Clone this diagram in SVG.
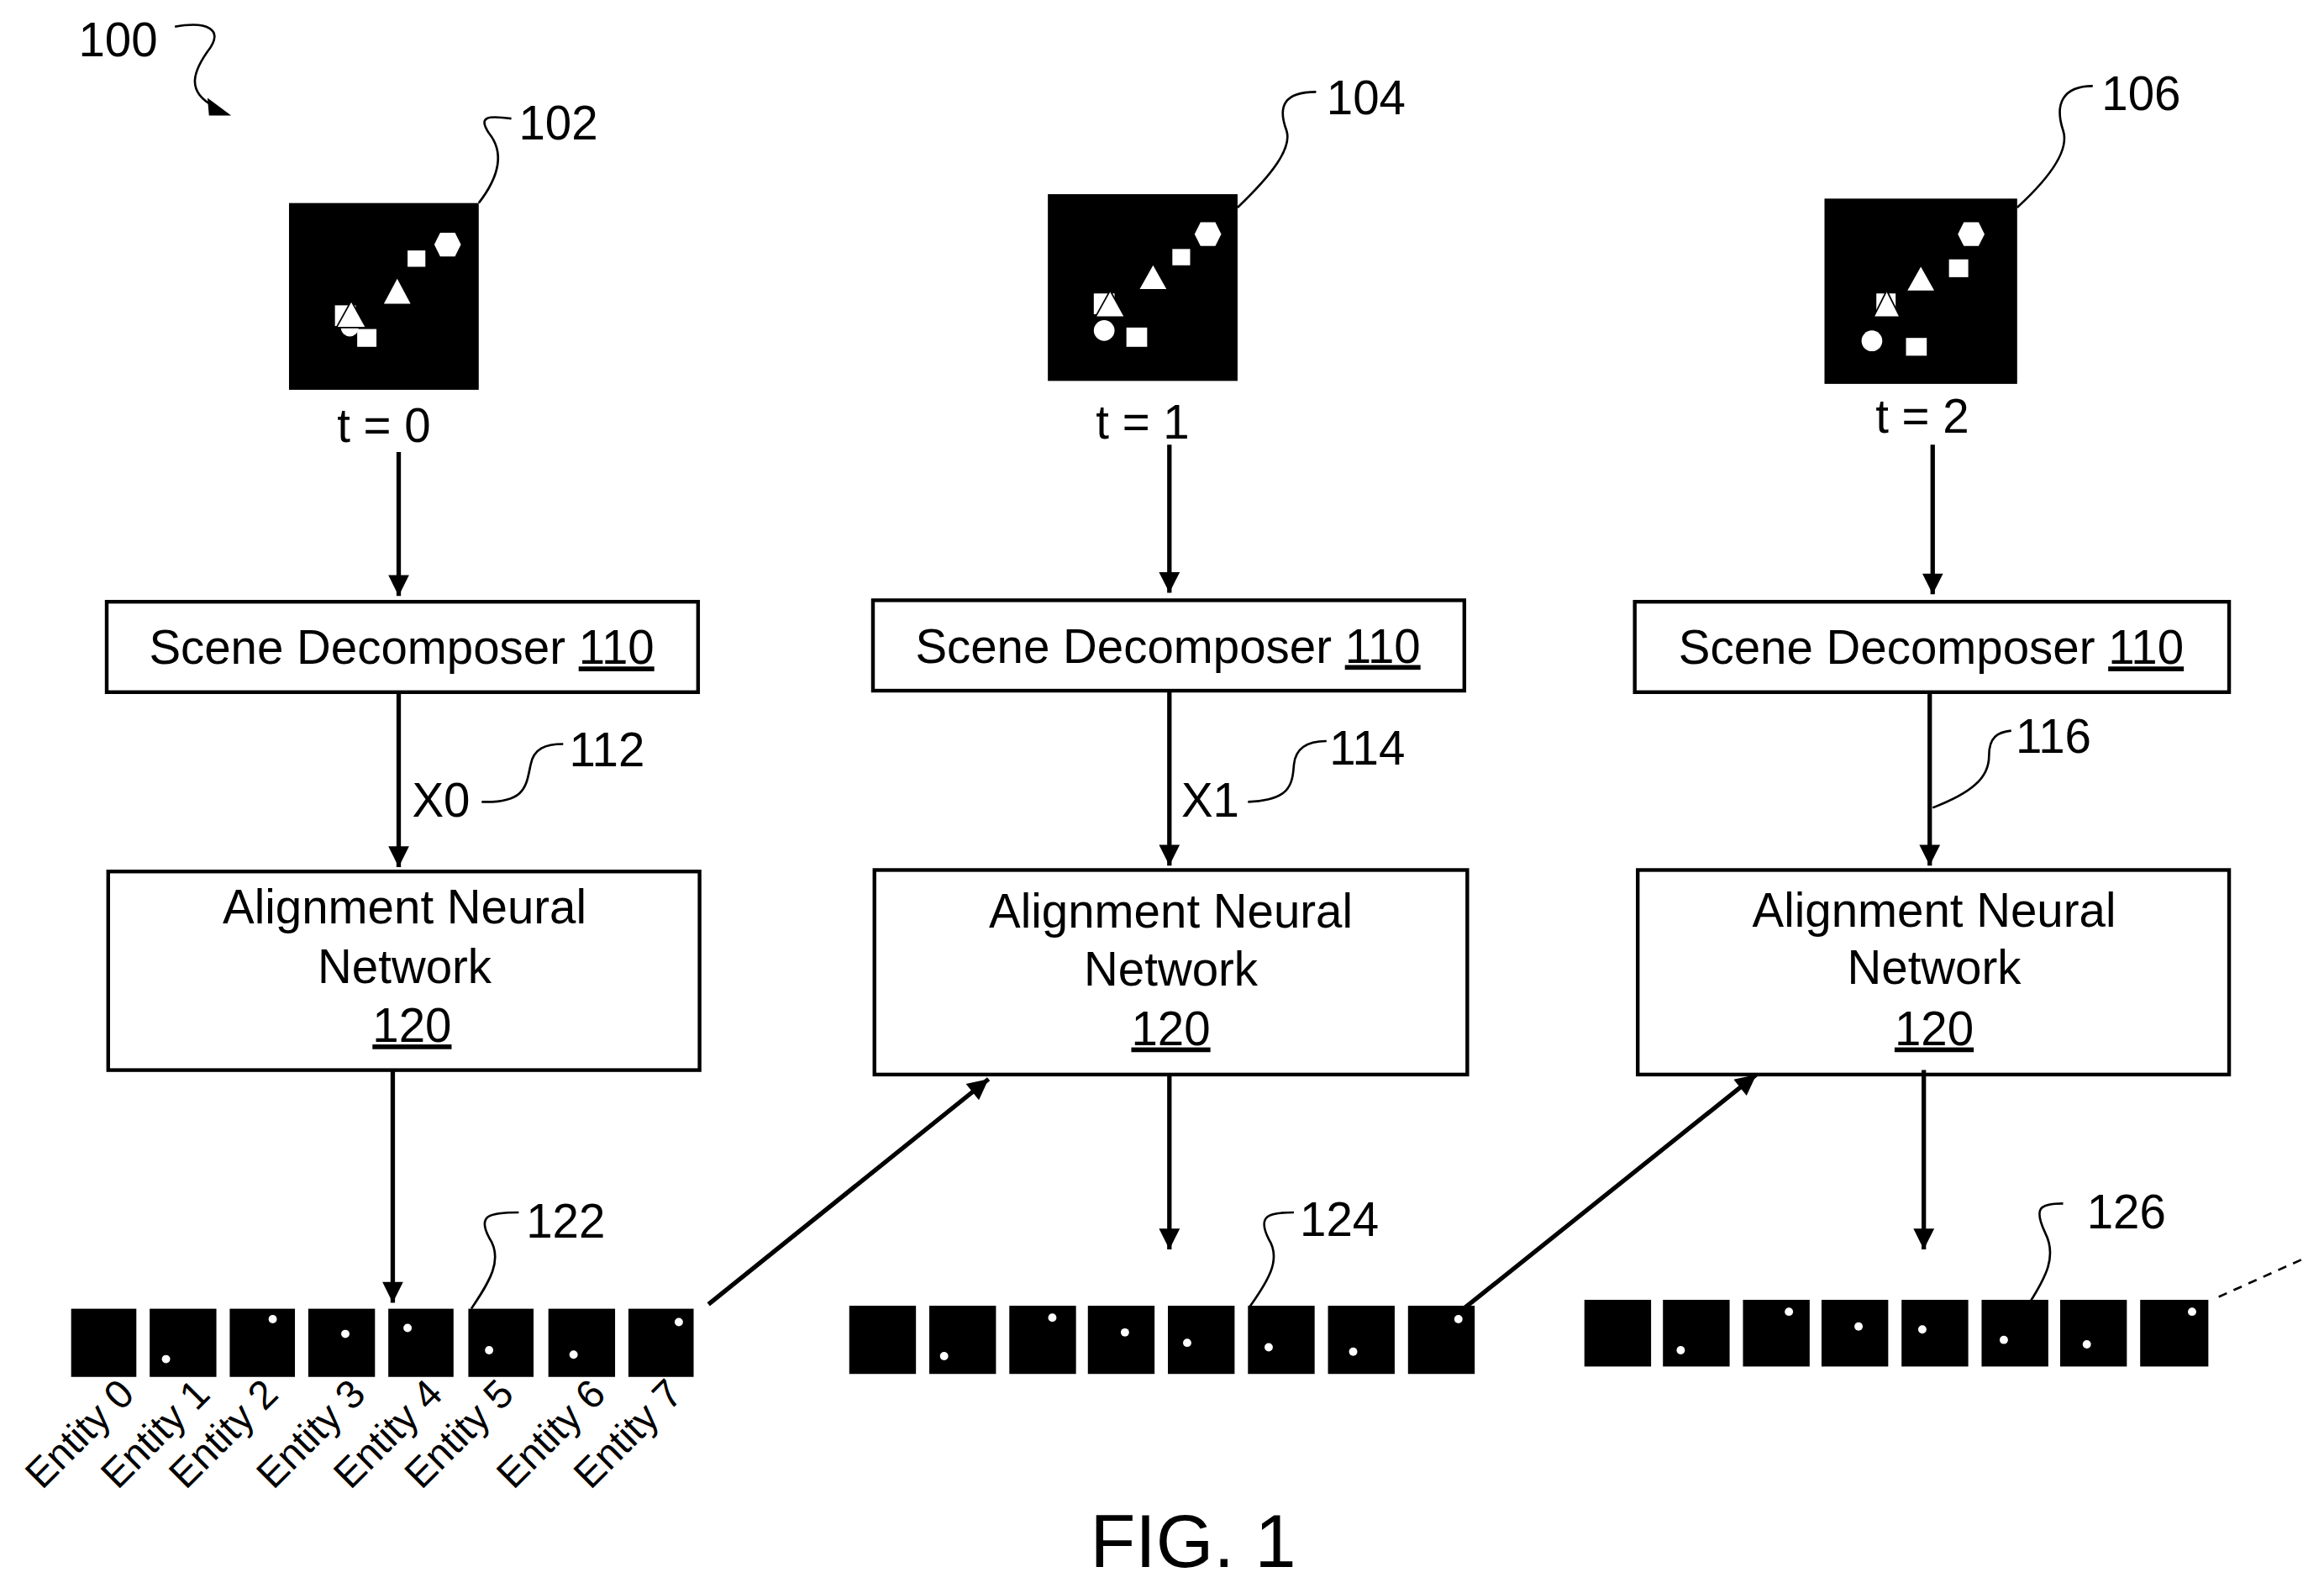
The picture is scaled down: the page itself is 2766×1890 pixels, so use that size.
<svg xmlns="http://www.w3.org/2000/svg" width="2766" height="1890" viewBox="0 0 2766 1890">
<style>
text{font-family:"Liberation Sans",Arial,sans-serif;fill:#000}
.t{font-size:32px}
.box{fill:#fff;stroke:#000;stroke-width:2.5}
.ln{fill:none;stroke:#000;stroke-width:3}
.ld{fill:none;stroke:#000;stroke-width:1.5}
.w{fill:#fff}
.e{font-size:27px}
</style>
<defs>
<marker id="a" viewBox="0 0 10 10" refX="10" refY="5" markerWidth="26" markerHeight="14" markerUnits="userSpaceOnUse" orient="auto"><path d="M0,0 L10,5 L0,10 z"/></marker>
<g id="dot"><circle r="2.8" class="w"/></g>
</defs>
<rect width="2766" height="1890" fill="#fff"/>
<g transform="scale(1.764)">
<g id="label100">
<text x="53" y="38" class="t">100</text>
<path class="ld" d="M118,18 C140,14 150,20 142,32 C130,48 125,62 145,72" stroke-width="2"/>
<path d="M140,66 L156,78 L141,78 z"/>
</g>
<g id="img102">
<rect x="195" y="137" width="128" height="126"/>
<polygon class="w" points="293,165 297,157 307,157 311,165 307,173 297,173"/>
<rect class="w" x="275" y="169" width="12" height="11"/>
<polygon class="w" points="268,188 277,205 259,205"/>
<rect class="w" x="226" y="206" width="14" height="14"/>
<circle class="w" cx="236" cy="221" r="6"/>
<polygon points="237,203 247,221 227,221" fill="#fff" stroke="#000" stroke-width="1"/>
<rect class="w" x="241" y="222" width="13" height="12"/>
<path class="ld" d="M323,137 C340,115 338,100 330,90 C322,78 330,78 345,80"/>
<text x="350" y="94" class="t">102</text>
<text x="259" y="298" class="t" text-anchor="middle">t = 0</text>
</g>
<g id="img104">
<rect x="707" y="131" width="128" height="126"/>
<polygon class="w" points="806,158 810,150 820,150 824,158 820,166 810,166"/>
<rect class="w" x="791" y="168" width="12" height="11"/>
<polygon class="w" points="778,179 787,195 769,195"/>
<rect class="w" x="738" y="198" width="14" height="14"/>
<polygon points="749,196 759,214 739,214" fill="#fff" stroke="#000" stroke-width="1"/>
<circle class="w" cx="745" cy="223" r="7"/>
<rect class="w" x="760" y="221" width="14" height="13"/>
<path class="ld" d="M835,140 C858,118 872,100 868,88 C862,72 866,62 888,62"/>
<text x="895" y="77" class="t">104</text>
<text x="771" y="296" class="t" text-anchor="middle">t = 1</text>
</g>
<g id="img106">
<rect x="1231" y="134" width="130" height="125"/>
<polygon class="w" points="1321,158 1325,150 1335,150 1339,158 1335,166 1325,166"/>
<rect class="w" x="1315" y="175" width="13" height="12"/>
<polygon class="w" points="1296,180 1305,196 1287,196"/>
<rect class="w" x="1266" y="198" width="13" height="14"/>
<polygon points="1273,196 1282,214 1264,214" fill="#fff" stroke="#000" stroke-width="1"/>
<circle class="w" cx="1263" cy="230" r="7"/>
<rect class="w" x="1286" y="228" width="14" height="12"/>
<path class="ld" d="M1361,140 C1385,118 1396,100 1392,88 C1386,70 1392,58 1412,58"/>
<text x="1418" y="74" class="t">106</text>
<text x="1297" y="292" class="t" text-anchor="middle">t = 2</text>
</g>
<g id="sd1"><rect class="box" x="72" y="406" width="399" height="61"/><text x="271" y="448" class="t" text-anchor="middle">Scene Decomposer <tspan text-decoration="underline">110</tspan></text></g>
<g id="sd2"><rect class="box" x="589" y="405" width="399" height="61"/><text x="788" y="447" class="t" text-anchor="middle">Scene Decomposer <tspan text-decoration="underline">110</tspan></text></g>
<g id="sd3"><rect class="box" x="1103" y="406" width="401" height="61"/><text x="1303" y="448" class="t" text-anchor="middle">Scene Decomposer <tspan text-decoration="underline">110</tspan></text></g>
<g id="ann1"><rect class="box" x="73" y="588" width="399" height="134"/>
<text x="273" y="623" class="t" text-anchor="middle">Alignment Neural</text><text x="273" y="663" class="t" text-anchor="middle">Network</text><text x="278" y="703" class="t" text-anchor="middle" text-decoration="underline">120</text></g>
<g id="ann2"><rect class="box" x="590" y="587" width="400" height="138"/>
<text x="790" y="626" class="t" text-anchor="middle">Alignment Neural</text><text x="790" y="665" class="t" text-anchor="middle">Network</text><text x="790" y="705" class="t" text-anchor="middle" text-decoration="underline">120</text></g>
<g id="ann3"><rect class="box" x="1105" y="587" width="399" height="138"/>
<text x="1305" y="625" class="t" text-anchor="middle">Alignment Neural</text><text x="1305" y="664" class="t" text-anchor="middle">Network</text><text x="1305" y="705" class="t" text-anchor="middle" text-decoration="underline">120</text></g>
<g id="connectors">
<line class="ln" x1="269" y1="305" x2="269" y2="402" marker-end="url(#a)"/>
<line class="ln" x1="789" y1="300" x2="789" y2="400" marker-end="url(#a)"/>
<line class="ln" x1="1304" y1="300" x2="1304" y2="401" marker-end="url(#a)"/>
<line class="ln" x1="269" y1="467" x2="269" y2="585" marker-end="url(#a)"/>
<line class="ln" x1="789" y1="466" x2="789" y2="584" marker-end="url(#a)"/>
<line class="ln" x1="1302" y1="467" x2="1302" y2="584" marker-end="url(#a)"/>
<line class="ln" x1="265" y1="722" x2="265" y2="879" marker-end="url(#a)"/>
<line class="ln" x1="789" y1="725" x2="789" y2="843" marker-end="url(#a)"/>
<line class="ln" x1="1298" y1="722" x2="1298" y2="843" marker-end="url(#a)"/>
<line class="ln" x1="478" y1="880" x2="667" y2="728" marker-end="url(#a)"/>
<line class="ln" x1="985" y1="885" x2="1185" y2="725" marker-end="url(#a)"/>
<line class="ld" x1="1497" y1="875" x2="1557" y2="848" stroke-dasharray="6,5"/>
</g>
<g id="lbl112"><text x="278" y="551" class="t">X0</text><path class="ld" d="M325,541 C355,542 355,530 358,516 C360,505 368,502 380,502"/><text x="384" y="517" class="t">112</text></g>
<g id="lbl114"><text x="797" y="551" class="t">X1</text><path class="ld" d="M842,541 C870,540 872,530 873,516 C874,505 882,500 895,500"/><text x="897" y="516" class="t">114</text></g>
<g id="lbl116"><path class="ld" d="M1304,545 C1330,535 1342,525 1342,510 C1342,497 1348,494 1357,493"/><text x="1360" y="508" class="t">116</text></g>
<g id="row122">
<rect x="48" y="883" width="44" height="46"/><rect x="101" y="883" width="45" height="46"/><rect x="155" y="883" width="44" height="46"/><rect x="208" y="883" width="45" height="46"/><rect x="262" y="883" width="44" height="46"/><rect x="316" y="883" width="44" height="46"/><rect x="370" y="883" width="45" height="46"/><rect x="424" y="883" width="44" height="46"/>
<use href="#dot" x="112" y="917"/><use href="#dot" x="184" y="890"/><use href="#dot" x="233" y="900"/><use href="#dot" x="275" y="896"/><use href="#dot" x="330" y="911"/><use href="#dot" x="387" y="914"/><use href="#dot" x="458" y="892"/>
<path class="ld" d="M318,883 C330,865 340,850 330,835 C322,820 330,818 350,818"/><text x="355" y="835" class="t">122</text>
</g>
<g id="entitylabels">
<text class="e" transform="translate(92,942) rotate(-45)" text-anchor="end">Entity 0</text>
<text class="e" transform="translate(143,942) rotate(-45)" text-anchor="end">Entity 1</text>
<text class="e" transform="translate(189,942) rotate(-45)" text-anchor="end">Entity 2</text>
<text class="e" transform="translate(248,942) rotate(-45)" text-anchor="end">Entity 3</text>
<text class="e" transform="translate(300,942) rotate(-45)" text-anchor="end">Entity 4</text>
<text class="e" transform="translate(348,942) rotate(-45)" text-anchor="end">Entity 5</text>
<text class="e" transform="translate(410,942) rotate(-45)" text-anchor="end">Entity 6</text>
<text class="e" transform="translate(462,942) rotate(-45)" text-anchor="end">Entity 7</text>
</g>
<g id="row124">
<rect x="573" y="881" width="45" height="46"/><rect x="627" y="881" width="45" height="46"/><rect x="681" y="881" width="45" height="46"/><rect x="734" y="881" width="45" height="46"/><rect x="788" y="881" width="45" height="46"/><rect x="842" y="881" width="45" height="46"/><rect x="896" y="881" width="45" height="46"/><rect x="950" y="881" width="45" height="46"/>
<use href="#dot" x="637" y="915"/><use href="#dot" x="710" y="889"/><use href="#dot" x="759" y="899"/><use href="#dot" x="801" y="906"/><use href="#dot" x="856" y="909"/><use href="#dot" x="913" y="912"/><use href="#dot" x="984" y="890"/>
<path class="ld" d="M843,882 C855,865 865,850 856,836 C848,820 856,818 873,818"/><text x="877" y="834" class="t">124</text>
</g>
<g id="row126">
<rect x="1069" y="877" width="45" height="45"/><rect x="1122" y="877" width="45" height="45"/><rect x="1176" y="877" width="45" height="45"/><rect x="1229" y="877" width="45" height="45"/><rect x="1283" y="877" width="45" height="45"/><rect x="1337" y="877" width="45" height="45"/><rect x="1390" y="877" width="45" height="45"/><rect x="1444" y="877" width="46" height="45"/>
<use href="#dot" x="1134" y="911"/><use href="#dot" x="1207" y="885"/><use href="#dot" x="1254" y="895"/><use href="#dot" x="1297" y="897"/><use href="#dot" x="1352" y="904"/><use href="#dot" x="1408" y="907"/><use href="#dot" x="1479" y="885"/>
<path class="ld" d="M1370,878 C1380,862 1388,848 1380,832 C1372,815 1376,812 1392,812"/><text x="1408" y="829" class="t">126</text>
</g>
<text x="805" y="1057" font-size="50" text-anchor="middle">FIG. 1</text>
</g>
</svg>
